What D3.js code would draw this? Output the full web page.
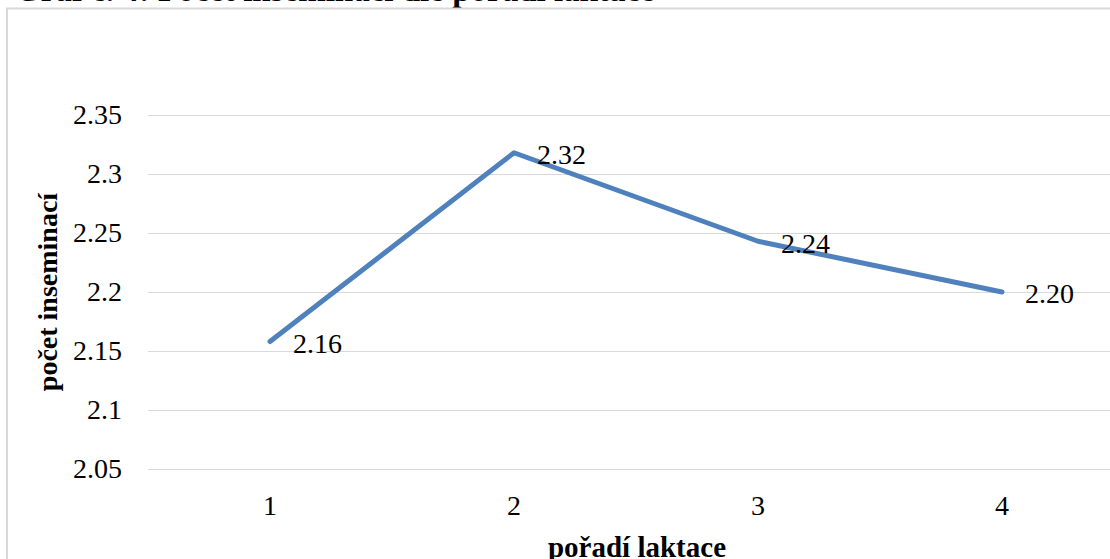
<!DOCTYPE html>
<html><head><meta charset="utf-8">
<script src="https://cdn.jsdelivr.net/npm/d3@7"></script>
<style>html,body{margin:0;padding:0;background:#fff;overflow:hidden}svg{display:block}</style>
</head><body>
<svg id="c" width="1110" height="559"></svg>
<script>
const titleText = "Graf č. 4: Počet inseminací dle pořadí laktace";
const categories = ["1", "2", "3", "4"];
const values = [2.158, 2.318, 2.243, 2.200];
const valueLabels = ["2.16", "2.32", "2.24", "2.20"];
const yTicks = [2.05, 2.1, 2.15, 2.2, 2.25, 2.3, 2.35];
const yTickLabels = ["2.05", "2.1", "2.15", "2.2", "2.25", "2.3", "2.35"];
const yTitle = "počet inseminací";
const xTitle = "pořadí laktace";

const svg = d3.select("#c");
const font = "'Liberation Serif','Times New Roman',serif";

// title (cut off at top edge, as in the reference)
svg.append("text").attr("x", 15).attr("y", 1)
  .attr("font-family", font).attr("font-weight", "bold").attr("font-size", 33)
  .attr("fill", "#000").text(titleText);

// chart border
svg.append("rect").attr("x", 7).attr("y", 8.5).attr("width", 1200).attr("height", 700)
  .attr("fill", "none").attr("stroke", "#d9d9d9").attr("stroke-width", 2);

const x = d3.scalePoint().domain(categories).range([270, 1002]);
const y = d3.scaleLinear().domain([2.05, 2.35]).range([469, 115]);

// gridlines
svg.append("g").selectAll("line").data(yTicks).join("line")
  .attr("x1", 148).attr("x2", 1124)
  .attr("y1", d => Math.round(y(d)) + 0.5).attr("y2", d => Math.round(y(d)) + 0.5)
  .attr("stroke", "#d9d9d9").attr("stroke-width", 1);

// y tick labels
svg.append("g").selectAll("text").data(yTicks).join("text")
  .attr("x", 122).attr("y", d => y(d)).attr("dy", "0.33em")
  .attr("text-anchor", "end").attr("font-family", font).attr("font-size", 28)
  .attr("fill", "#000").text((d, i) => yTickLabels[i]);

// x tick labels
svg.append("g").selectAll("text").data(categories).join("text")
  .attr("x", d => x(d)).attr("y", 515)
  .attr("text-anchor", "middle").attr("font-family", font).attr("font-size", 28)
  .attr("fill", "#000").text(d => d);

// line
const line = d3.line().x((d, i) => x(categories[i])).y(d => y(d));
svg.append("path").datum(values).attr("d", line)
  .attr("fill", "none").attr("stroke", "#4f81bd").attr("stroke-width", 5)
  .attr("stroke-linejoin", "round").attr("stroke-linecap", "round");

// data labels
svg.append("g").selectAll("text").data(values).join("text")
  .attr("x", (d, i) => x(categories[i]) + 23).attr("y", (d, i) => y(d) + 2)
  .attr("dy", "0.33em").attr("font-family", font).attr("font-size", 28)
  .attr("fill", "#000").text((d, i) => valueLabels[i]);

// axis titles
svg.append("text").attr("transform", "translate(57,292) rotate(-90)")
  .attr("text-anchor", "middle").attr("font-family", font).attr("font-weight", "bold")
  .attr("font-size", 28).attr("fill", "#000").text(yTitle);
svg.append("text").attr("x", 637).attr("y", 557)
  .attr("text-anchor", "middle").attr("font-family", font).attr("font-weight", "bold")
  .attr("font-size", 29).attr("fill", "#000").text(xTitle);
</script>
</body></html>
